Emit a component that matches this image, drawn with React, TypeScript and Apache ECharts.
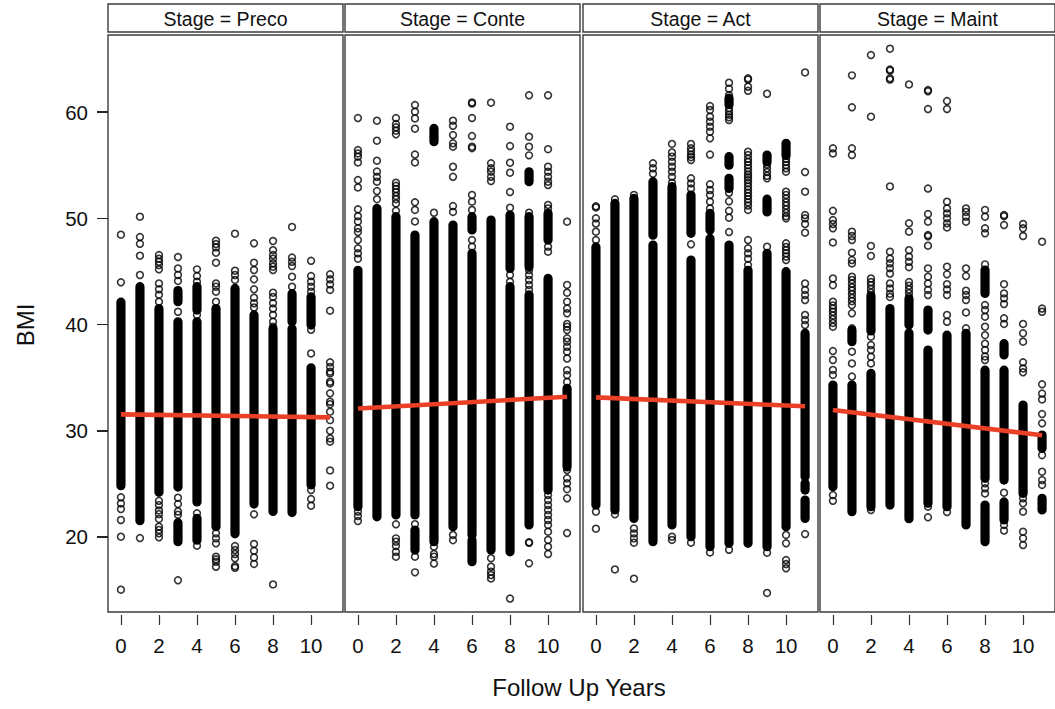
import React, { useEffect, useRef, useState } from "react";
import * as echarts from "echarts";

const FONT = "'Liberation Sans', Arial, sans-serif";
const stages = ["Preco", "Conte", "Act", "Maint"];
const xTicks = [0, 2, 4, 6, 8, 10];
const yTicks = [20, 30, 40, 50, 60];
const trendYears = [0, 11];

const precoTrend = [31.54, 31.26];
const conteTrend = [32.1, 33.2];
const actTrend = [33.14, 32.3];
const maintTrend = [31.95, 29.57];

// Solid columns: [year, lowest value, highest value]
const precoDense = [[0,24.83,42.1],[1,21.53,43.56],[2,24.2,41.5],[3,24.7,40.26],[3,19.56,21.35],[3,42.15,43.2],[4,23.3,40.26],[4,19.7,21.75],[4,41.36,43.56],[5,20.97,41.5],[6,20.3,43.4],[7,23.1,40.9],[8,22.4,39.6],[9,22.3,39.6],[9,40.26,42.9],[10,24.9,35.93],[10,39.95,42.6]];
const conteDense = [[0,22.85,45.1],[1,21.9,50.93],[2,22.07,50.15],[3,22.07,48.42],[3,18.77,20.66],[4,19.56,49.68],[4,57.2,58.46],[5,20.97,49.36],[6,20.19,46.7],[6,48.9,50.15],[6,17.68,19.7],[7,18.77,49.83],[8,18.6,43.56],[8,45.28,50.3],[9,21.13,42.78],[9,45.44,50.15],[9,53.44,54.38],[10,24.42,44.34],[10,47.95,50.46],[11,26.6,34]];
const actDense = [[0,23,47.3],[1,22.54,51.4],[2,21.75,51.87],[3,19.56,47.48],[3,48.4,53.44],[4,21.13,52.97],[5,20.03,46.07],[5,48.58,52.19],[6,19.09,48.1],[6,48.9,50.46],[7,19.4,47.48],[7,60.7,61.3],[7,52.8,53.76],[7,55,55.8],[8,19.4,45.1],[9,19.09,46.7],[9,50.6,51.8],[9,55.3,55.95],[10,20.97,44.97],[10,55.9,57.05],[11,25.68,39.17],[11,24.42,25.05],[11,21.75,23.48]];
const maintDense = [[0,24.73,34.3],[1,22.38,34.3],[1,38.38,39.48],[2,22.85,35.4],[2,39.4,42.7],[3,23,41.5],[4,21.72,39.2],[4,39.95,42.4],[5,23.17,37.6],[5,39.48,41.36],[6,22.85,39],[7,21.13,39.17],[8,25.52,35.7],[8,19.56,23],[8,42.93,45.13],[9,25.36,35.7],[9,21.6,23.3],[9,37.13,38.2],[10,24.1,32.42],[11,28.35,29.6],[11,22.54,23.64]];

// Separate circles, listed by year 0..11
const precoPoints = [
  [48.45,43.97,23.73,23.16,22.63,21.6,20.03,15.04],
  [50.15,48.23,47.6,46.48,44.66,19.9],
  [46.54,46.2,45.9,45.6,45.2,43.87,43.31,42.81,42.15,23.4,23,22.5,22.16,21.7,20.97,20.66,20.35,19.97],
  [46.35,45.28,44.66,44.1,41.2,23.7,23.1,22.4,22.1,15.92],
  [45.19,44.56,44.03,40.9,22.23,19.18],
  [47.89,47.57,47.26,46.76,45.82,43.87,43.56,43.09,42.15,20.35,19.87,19.4,18.15,17.9,17.66,17.2],
  [48.55,45.07,44.66,44.2,19.15,18.77,18.4,17.99,17.25,17.1],
  [47.64,45.82,45.13,44.25,43.31,42.52,42,41.6,22.13,19.34,18.7,18.08,17.46],
  [47.86,47,46.54,46.2,45.76,45.44,45.13,43,42.6,42,41.5,40.9,40.26,39.8,15.54],
  [49.18,46.3,45.9,45.5,44.5,43.56],
  [46,44.56,44.03,43.56,43.09,39.5,37.28,24.42,23.57,22.95],
  [44.72,44.25,43.78,43.25,41.3,36.44,36,35.56,35.4,34.62,34.45,33.52,32.73,32.5,31.8,31,30,29.28,28.97,26.27,24.83],
];
const contePoints = [
  [59.43,56.42,56.1,55.8,55.26,53.6,52.9,50.84,50.2,49.7,49.05,48.7,47.95,47.17,46.7,46.2,22.4,21.97,21.5],
  [59.18,57.3,55.42,54.4,53.9,53.44,52.56,51.8],
  [59.43,58.87,58.56,58.24,57.9,53.35,53.05,52.75,52.45,52.1,51.8,51.4,50.7,21.19,19.87,19.56,19.15,18.6,18.15],
  [60.66,60.03,59.4,58.43,56,55.26,51.5,50.78,49.7,21.2,18.15,16.67],
  [50.52,19.09,18.4,18.15,17.5],
  [59.18,58.7,57.83,57.05,56.74,54.85,53.9,51.15,50.6,20.19,19.7],
  [60.9,60.8,59.43,57.74,56.74,56.6,52.19,51.56,50.78,47.95,47.33],
  [60.88,55.17,54.7,54.38,53.9,53.5,18,17.2,16.74,16.42,16.1],
  [58.62,56.8,55.23,54.29,52.47,51,44.66,44.03,14.2],
  [61.57,57.68,56.74,55.92,50.52,45.13,44.66,44.19,43.72,43.25,19.5,19.45,17.52],
  [61.57,56.5,54.85,54.38,53.9,53.44,53.13,51.25,50.93,47.33,46.85,23.95,23.48,23,22.54,22.07,21.6,21.13,20.5,19.72,19.09,18.4],
  [49.68,43.72,43,42.15,41.5,41.05,40.05,39.8,39.48,38.7,38.38,37.9,37.44,36.8,35.7,35.24,34.6,26.3,25.52,25.05,24.5,23.64,20.37],
];
const actPoints = [
  [51.12,51.02,50,49.5,48.74,47.95,22.38,20.78],
  [51.78,22.13,16.95],
  [52.2,20.8,20.33,19.87,19.46,16.08],
  [55.17,54.7,54.2],
  [57,56.2,55.8,55.33,54.85,54.38,53.9,53.35,22.2,21.75,20.03,19.72],
  [57,56.58,56.3,56,55.75,55.48,53.76,53.28,52.8,47.55,19.46],
  [60.56,60.19,59.56,59.09,58.62,58.15,57.52,56,53.2,52.66,52.19,51.56,50.93,18.55],
  [62.76,62.2,61.6,60.35,60.05,59.75,59.5,59.25,52.4,51.6,50.7,50.05,48.7,18.8],
  [63.17,63.05,62.38,62,56.27,55.95,55.6,55.3,55,54.7,54.4,54.1,53.85,53.6,53.3,53,52.7,52.4,52.1,51.8,51.5,51.2,50.78,47.95,47.17,46.7,46.2,45.6],
  [61.72,55.05,54.7,54.35,54,53.76,47.33,18.52,14.73],
  [55.6,55.3,55,54.7,54.38,52.5,52.2,51.85,51.5,51.2,50.85,50.5,50.2,50,47.64,47.3,47,46.7,46.4,46.07,20.19,19.4,17.83,17.45,17.05],
  [63.73,54.35,52.5,50.3,50,49.46,48.64,43.87,43.25,42.77,42.3,40.9,40.42,39.95,20.28],
];
const maintPoints = [
  [56.58,56.1,50.7,49.83,49.46,49.05,47.73,44.34,43.7,42.15,41.8,41.5,41.2,40.85,40.5,40.15,39.8,37.5,36.66,35.72,35.25,23.95,23.4],
  [63.45,60.44,56.58,55.95,48.74,48.33,47.95,46.76,46.07,45.75,44.5,44.2,43.85,43.5,43.2,42.85,42.5,42.2,41.83,41.05,39.64,37.44,36.34,35.1],
  [65.36,59.56,47.4,46.45,44.34,44,43.7,43.35,43,38.85,38.07,37.6,36.97,36.34,22.54],
  [65.96,64,63.9,63.17,63.05,53,46.85,46.2,45.76,45.3,44.8,43.87,43.4,42.9,42.6],
  [62.6,49.52,48.74,47,46.38,45.9,45.4,44,43.65,43.3,42.95,42.6],
  [62.07,61.95,60.28,52.8,50.4,49.68,48.42,48.3,47.42,45.28,44.5,43.87,43.25,42.77,22.85,21.85],
  [61.03,60.28,51.56,50.93,50.46,50,49.52,49.14,45.44,44.72,43.8,43.3,42.77,40.9,40.26,22.35],
  [50.93,50.6,50.15,49.68,45.28,44.56,43.18,42.77,42.3,41.14,39.64],
  [50.78,50.15,49.05,48.58,45.66,41.83,41.36,40.74,39.8,39,38.2,37.6,37,36.66,25.05,24.58,24.1],
  [50.3,50.2,49.36,43.8,42.93,42.46,41.93,40.58,40.05,24.17,21.13,20.6],
  [49.46,49.05,48.33,40.05,39.17,38.38,36.44,35.87,35.5,23.64,23.17,22.38,20.5,19.87,19.24],
  [47.8,41.5,41.2,34.37,33.5,32.95,31.57,30.7,27.7,26.15,25.36,24.9],
];

const denseSets = [precoDense, conteDense, actDense, maintDense];
const pointSets = [precoPoints, contePoints, actPoints, maintPoints];
const trendSets = [precoTrend, conteTrend, actTrend, maintTrend];

const panelLefts = [108, 345, 583, 820];
const panelWidth = 235;
const FRAME = "#3c3c3c";
const X_MIN = -0.68;

function buildOption() {
  const grid: any[] = [], xAxis: any[] = [], yAxis: any[] = [], series: any[] = [], graphic: any[] = [];
  stages.forEach((stage, i) => {
    grid.push({ left: panelLefts[i], top: 35, width: panelWidth, height: 577, show: true, borderColor: FRAME, borderWidth: 1.4, backgroundColor: "#fff" });
    xAxis.push({
      gridIndex: i, type: "value", min: X_MIN, max: 11.68, offset: 3,
      splitLine: { show: false }, axisLine: { show: false, onZero: false },
      axisTick: { show: true, length: 10, customValues: xTicks, lineStyle: { color: "#333", width: 1.2 } },
      axisLabel: { show: true, customValues: xTicks, margin: 20, color: "#111", fontSize: 20.5, fontFamily: FONT, formatter: (v: number) => String(v) },
    });
    yAxis.push({
      gridIndex: i, type: "value", min: 12.94, max: 67.25, position: "left",
      splitLine: { show: false }, axisLine: { show: false, onZero: false },
      axisTick: { show: false },
      axisLabel: { show: i === 0, customValues: yTicks, margin: 20, color: "#111", fontSize: 20.5, fontFamily: FONT, formatter: (v: number) => String(v) },
    });
    series.push({
      type: "custom", xAxisIndex: i, yAxisIndex: i, data: denseSets[i], encode: { x: 0, y: [1, 2] }, z: 2, silent: true,
      renderItem: (_p: any, api: any) => {
        const top = api.coord([api.value(0), api.value(2)]);
        const bot = api.coord([api.value(0), api.value(1)]);
        const w = 9.2;
        return { type: "rect", shape: { x: top[0] - w / 2, y: top[1] - w / 2, width: w, height: bot[1] - top[1] + w, r: w / 2 }, style: { fill: "#000" } };
      },
    });
    series.push({
      type: "scatter", xAxisIndex: i, yAxisIndex: i, z: 3, silent: true, symbol: "circle", symbolSize: 6.8,
      itemStyle: { color: "rgba(255,255,255,0)", borderColor: "#000", borderWidth: 1.6 },
      data: pointSets[i].flatMap((vals, yr) => vals.map((v) => [yr, v])),
    });
    series.push({
      type: "line", xAxisIndex: i, yAxisIndex: i, z: 5, silent: true, symbol: "none",
      lineStyle: { color: "#EA4027", width: 4.6 },
      data: trendYears.map((yr, k) => [yr, trendSets[i][k]]),
    });
    graphic.push({ type: "rect", shape: { x: panelLefts[i], y: 4, width: panelWidth, height: 28 }, style: { fill: "#fff", stroke: FRAME, lineWidth: 1.4 } });
    graphic.push({ type: "text", x: panelLefts[i] + panelWidth / 2, y: 19, style: { text: `Stage = ${stage}`, fill: "#111", font: `19.5px ${FONT}`, align: "center", verticalAlign: "middle" } });
  });
  graphic.push({ type: "text", x: 579, y: 687, style: { text: "Follow Up Years", fill: "#111", font: `24px ${FONT}`, align: "center", verticalAlign: "middle" } });
  graphic.push({ type: "text", x: 25, y: 325, rotation: Math.PI / 2, style: { text: "BMI", fill: "#111", font: `24px ${FONT}`, align: "center", verticalAlign: "middle" } });
  return { animation: false, backgroundColor: "#fff", grid, xAxis, yAxis, series, graphic };
}

export default function App() {
  const ref = useRef<HTMLDivElement>(null);
  const [tickPixels, setTickPixels] = useState<number[][]>([]);
  useEffect(() => {
    const chart = echarts.init(ref.current!, undefined, { renderer: "svg" });
    chart.setOption(buildOption() as any);
    // Left-hand ticks of the first panel: positions come from its y scale
    setTickPixels(yTicks.map((v) => chart.convertToPixel({ gridIndex: 0 }, [X_MIN, v]) as number[]));
    return () => chart.dispose();
  }, []);
  return (
    <div style={{ position: "absolute", left: 0, top: 0, width: 1055, height: 709 }}>
      <div ref={ref} style={{ width: 1055, height: 709 }} />
      {tickPixels.map((p, k) => (
        <div key={k} style={{ position: "absolute", left: p[0] - 11, top: p[1] - 0.75, width: 11, height: 1.5, background: "#222", pointerEvents: "none" }} />
      ))}
    </div>
  );
}
